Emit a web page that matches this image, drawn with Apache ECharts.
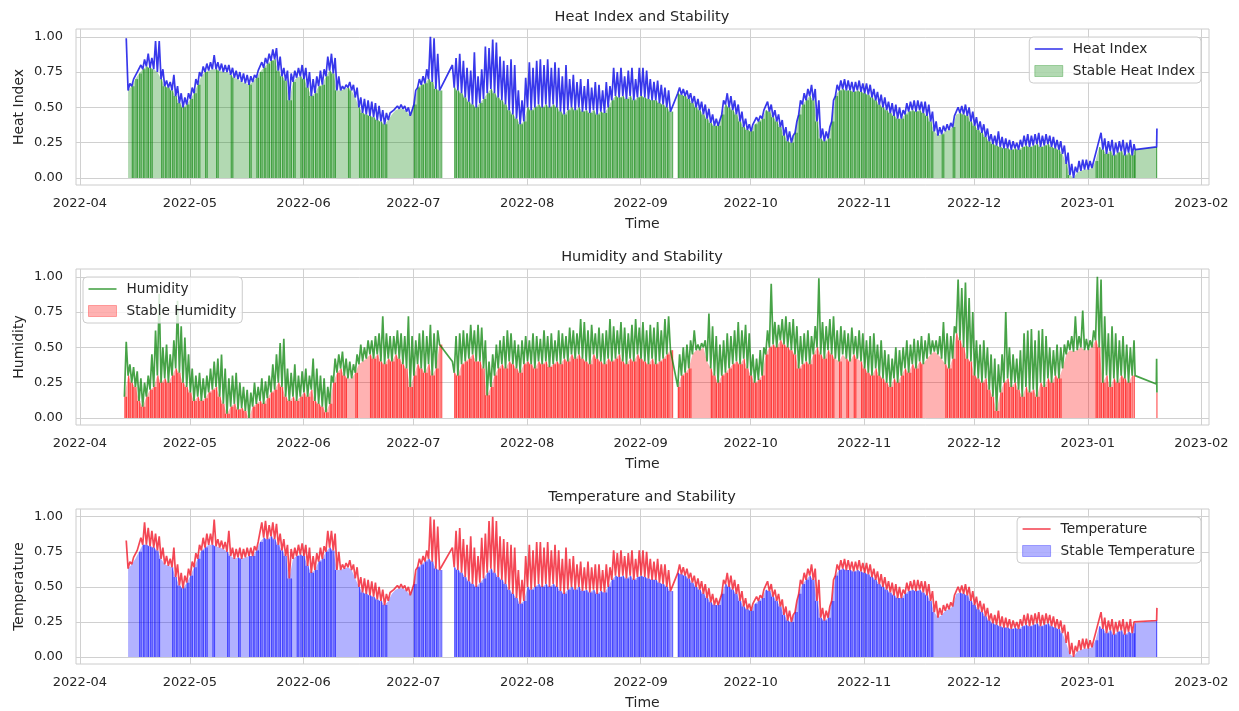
<!DOCTYPE html>
<html><head><meta charset="utf-8">
<script src="https://cdn.jsdelivr.net/npm/echarts@6/dist/echarts.min.js"></script>
<style>html,body{margin:0;padding:0;background:#fff;}#c{width:1239px;height:711px;}</style>
</head><body><div id="c"></div>
<script>
// ---------- tick labels ----------
const monthTicks = ['2022-04','2022-05','2022-06','2022-07','2022-08','2022-09','2022-10','2022-11','2022-12','2023-01','2023-02'];
const yTicks = [0, 0.25, 0.5, 0.75, 1.0];

// ---------- daily values (percent), one entry per day starting 2022-04-13 ----------
// lo = daily low (night), hi = daily high (afternoon)
const heatLo = [
 null,62,65,70,74,77,79,78,77,75,70,65,64,62,58,53,50,52,
 56,60,66,72,75,76,77,77,76,75,75,73,71,70,68,67,66,68,71,75,78,81,83,84,76,72,69,55,68,71,72,
 70,64,58,60,65,66,72,76,74,62,62,63,64,62,57,50,46,45,44,43,41,40,38,41,45,48,49,49,47,44,
 52,64,66,67,70,68,63,62,null,null,null,64,62,60,57,54,52,50,53,56,60,63,60,57,55,52,48,45,42,38,40,
 50,48,50,52,50,52,50,52,50,47,45,48,50,48,50,47,48,46,48,45,47,46,50,55,58,57,58,56,58,55,57,
 58,57,56,55,55,53,52,50,47,null,60,59,58,56,53,50,48,45,42,39,37,37,45,52,50,48,45,40,36,34,
 33,38,40,42,48,47,43,40,36,30,26,25,32,45,52,55,58,55,40,28,26,28,40,58,62,63,62,62,61,62,61,
 60,59,57,55,52,50,48,46,44,42,42,45,47,48,47,48,46,44,40,33,30,31,33,34,36,45,46,45,44,40,
 37,34,32,29,26,24,23,22,21,21,20,21,20,22,23,22,23,24,22,23,24,22,21,20,17,10,2,0,4,5,6,
 6,7,12,22,20,17,19,16,18,19,16,18,16
];
const heatHi = [
 99,67,70,75,80,84,88,85,97,97,77,69,68,73,65,60,57,60,
 64,70,75,79,81,82,87,82,81,80,80,78,76,75,74,73,72,73,76,82,85,88,91,92,86,78,76,74,76,78,80,
 78,75,70,72,76,77,86,88,85,72,65,66,68,66,64,57,56,55,54,53,51,48,46,46,48,51,52,51,50,48,
 62,70,72,77,100,99,88,null,null,null,80,85,88,83,78,76,89,72,77,93,92,98,96,86,83,80,84,80,62,55,71,
 82,78,83,84,80,84,78,82,78,72,80,70,73,68,70,65,70,64,68,66,62,68,65,78,75,78,72,76,78,70,78,
 78,76,70,68,69,66,64,62,null,null,64,63,62,60,58,56,54,52,49,45,42,41,55,60,58,55,52,47,42,38,
 38,43,44,48,54,52,48,45,41,36,33,30,40,55,60,63,66,63,55,35,33,36,55,66,69,70,69,68,68,69,67,
 67,66,63,61,59,57,54,53,52,50,48,53,54,55,55,54,54,52,47,40,36,37,38,39,44,50,51,52,50,47,
 43,40,38,35,31,30,33,29,28,27,26,25,27,30,31,30,31,32,30,31,30,29,27,26,23,18,10,8,12,13,13,
 12,12,22,32,28,26,27,25,26,27,25,27,24
];
// stable flags per day: 1 = stable (dense), 0 = stable (sparse), - = not stable
const heatStable = [
 '00111 11100 11111 111',
 '11101 00100 01000 01011 11111 11110 1',
 '11111 11110 00100 11111 11100 00000',
 '11111 111-- -1111 11111 11111 11111 1',
 '11111 11111 11111 11111 11111 11111 1',
 '11111 1111- 11111 11111 11111 11111',
 '11111 11111 11111 11111 11111 11111 1',
 '11111 11111 11111 11110 01001 01111',
 '11111 11111 11111 11111 11110 10100 0',
 '00111 11111 111'
];
const heatTailTime = ['2023-01-13 22:00','2023-01-19 19:00','2023-01-19 21:00'];
const heatTailValue = [20, 22, 35];
const heatTailStable = [20, 22, null];

const humLo = [
 15,30,25,22,12,8,15,20,22,30,25,28,25,30,35,32,25,22,
 18,12,15,12,14,18,20,22,15,10,3,8,10,6,7,5,0,8,10,12,10,14,18,20,25,22,15,12,15,12,15,
 18,15,20,12,10,8,4,10,25,32,35,30,28,28,32,38,40,42,45,42,45,40,38,42,40,45,42,38,35,22,
 30,38,35,32,38,30,35,52,null,null,null,32,30,38,40,42,45,40,40,35,16,22,30,35,38,35,40,38,35,32,38,
 40,38,35,40,38,40,36,38,40,38,42,40,45,42,45,42,40,38,45,42,40,38,42,40,42,45,40,38,42,40,45,
 42,40,38,42,38,40,42,45,48,null,22,30,32,35,45,48,48,50,40,35,30,25,30,32,35,38,40,38,42,35,
 30,25,27,30,45,50,52,50,55,52,50,48,45,35,38,40,38,45,50,45,42,48,45,42,40,45,42,40,45,42,40,
 35,32,30,35,30,28,25,22,28,25,30,35,32,38,35,40,38,42,45,47,45,42,38,35,42,60,55,50,42,40,
 30,28,25,28,20,15,5,18,25,28,22,25,20,15,22,18,20,15,25,22,28,25,30,28,35,45,48,47,48,50,48,
 48,50,55,50,25,30,22,28,25,30,28,25,30
];
const humHi = [
 54,38,36,33,28,25,30,45,62,88,50,52,45,55,83,65,57,45,
 35,30,32,28,30,35,40,42,45,35,28,30,32,25,22,20,18,25,22,28,26,30,38,45,53,56,35,32,38,30,33,
 35,30,42,35,30,28,22,30,42,45,47,42,40,38,45,52,50,55,55,58,60,72,60,58,58,62,60,58,72,58,
 55,60,62,58,66,60,62,null,null,null,40,58,60,62,60,66,62,66,64,55,40,45,52,55,58,62,60,55,52,55,58,
 55,60,58,56,62,58,60,55,62,60,58,64,62,60,70,68,62,66,60,64,60,62,70,65,62,68,64,60,66,70,64,
 68,62,66,64,68,62,70,72,null,null,45,50,52,55,62,52,53,55,74,65,58,52,55,60,58,62,68,62,66,60,
 45,42,48,50,62,95,68,66,70,72,68,70,65,58,60,62,58,65,99,68,65,70,72,62,65,62,60,64,58,62,60,
 55,58,60,52,55,48,45,42,50,48,50,55,52,56,55,58,55,60,55,55,58,68,60,58,65,98,92,96,85,75,
 55,52,55,50,45,42,38,45,75,50,45,42,48,60,62,63,55,62,63,58,50,48,52,50,52,55,58,72,58,76,56,
 55,62,100,98,72,60,65,60,55,58,52,50,55
];
const humStable = [
 '11111 11111 11111 111',
 '11111 11111 11111 11111 11111 11111 1',
 '11111 11111 11001 00011 11111 11111',
 '11111 111-- -1111 11111 11111 11111 1',
 '11111 11111 11111 11111 11111 11111 1',
 '11111 1111- 11110 00001 11111 11111',
 '11111 11111 11111 11111 11101 01010 1',
 '11111 11111 11111 10000 00111 11111',
 '11111 11111 11111 11111 11110 00000 0',
 '00111 11111 111'
];
const humTailTime = ['2023-01-13 22:00','2023-01-19 17:00','2023-01-19 19:00','2023-01-19 21:00'];
const humTailValue = [30, 24, 42, 18];
const humTailStable = [null, null, null, 18];

const tempLo = [
 null,63,66,70,75,80,80,79,78,76,70,66,65,64,57,51,49,53,
 58,64,70,76,78,80,80,79,78,77,75,72,70,71,70,71,72,72,76,82,85,84,86,84,80,76,72,56,70,72,73,
 72,65,60,62,68,70,75,78,76,62,62,63,64,62,56,50,46,45,44,43,41,40,37,40,45,48,49,49,47,44,
 52,64,66,68,70,68,63,62,null,null,null,64,62,60,57,54,52,50,53,56,60,63,60,57,55,52,48,45,42,38,40,
 50,48,50,52,50,52,50,52,50,47,45,48,50,48,50,47,48,46,48,45,47,46,50,55,58,57,58,56,58,55,57,
 58,57,56,55,55,53,52,50,47,null,60,59,58,56,53,50,48,45,42,39,37,37,45,52,50,48,45,40,36,34,
 33,38,40,42,48,47,43,40,36,30,26,25,32,45,52,55,58,55,40,28,26,28,40,58,62,63,62,62,61,62,61,
 60,59,57,55,52,50,48,46,44,42,42,45,47,48,47,48,46,44,40,32,28,30,33,34,36,45,46,45,44,40,
 37,34,32,29,26,24,23,22,21,21,20,21,20,22,23,22,23,24,22,23,24,22,21,20,17,10,2,0,4,5,6,
 6,7,12,22,20,17,19,16,18,19,16,18,17
];
const tempHi = [
 83,68,71,76,85,96,92,90,88,86,78,72,70,78,66,60,58,63,
 68,74,80,85,88,88,98,84,83,82,90,78,77,78,77,78,78,79,82,96,97,94,96,95,88,84,80,77,78,80,81,
 80,78,72,74,78,79,90,90,88,75,66,67,69,66,64,57,56,55,54,53,50,48,45,46,48,51,52,51,50,48,
 62,70,72,76,100,98,93,null,null,null,78,90,92,84,80,86,78,72,85,88,97,100,97,86,84,82,80,78,62,55,72,
 80,76,82,82,78,82,76,80,76,70,78,70,72,66,68,64,68,64,66,66,62,66,64,76,74,76,72,74,76,70,76,
 76,75,70,68,70,66,66,62,null,null,66,64,63,60,58,56,54,52,49,45,42,41,55,60,58,55,52,47,42,38,
 38,43,44,48,54,52,48,45,41,36,33,30,40,55,60,63,66,63,55,35,33,36,55,66,69,70,69,68,68,69,67,
 67,66,63,61,59,57,54,53,52,50,48,53,54,55,55,54,54,52,47,40,35,37,38,39,44,50,51,52,50,47,
 43,40,38,35,31,30,33,29,28,27,26,25,27,30,31,30,31,32,30,31,30,29,27,26,23,18,10,8,12,13,13,
 12,12,22,32,28,26,27,25,26,27,25,27,25
];
const tempStable = [
 '00001 11111 00011 111',
 '11111 01000 10010 01111 11111 11101 1',
 '11111 11110 00000 11111 11100 00000',
 '11111 111-- -1111 11111 11111 11111 1',
 '11111 11111 11111 11111 11111 11111 1',
 '11111 1111- 11111 11111 11111 11111',
 '11111 11111 11111 11111 11111 11111 1',
 '11111 11111 11111 11110 00000 01111',
 '11111 11111 11111 11111 11110 00000 0',
 '00111 11111 111'
];
const tempTailTime = ['2023-01-13 22:00','2023-01-19 19:00','2023-01-19 21:00'];
const tempTailValue = [24, 26, 35];
const tempTailStable = [24, 26, null];

// ---------- helpers ----------
const FONT = 'DejaVu Sans';
const TXT = '#262626';
const dayT = (i, h) => new Date(2022, 3, 13 + i, h).getTime();
const parseT = s => { const [d, hm] = s.split(' '); const [y, m, dd] = d.split('-').map(Number); const [hh, mm] = hm.split(':').map(Number); return new Date(y, m - 1, dd, hh, mm).getTime(); };
const flagStr = parts => parts.join('').replace(/\s+/g, '');
const tickTimes = monthTicks.map(s => { const [y, m] = s.split('-').map(Number); return new Date(y, m - 1, 1).getTime(); });

function lineData(lo, hi, tT, tV) {
  const out = [];
  for (let i = 0; i < lo.length; i++) {
    if (lo[i] != null) out.push([dayT(i, 3), lo[i] / 100]);
    if (hi[i] != null) out.push([dayT(i, 15), hi[i] / 100]);
  }
  tT.forEach((s, k) => out.push([parseT(s), tV[k] / 100]));
  return out;
}
function fillData(lo, fl, tT, tS) {
  const out = [];
  for (let i = 0; i < lo.length; i++) {
    if (fl[i] === '-' || lo[i] == null) out.push([dayT(i, 3), '-']);
    else out.push([dayT(i, 3), lo[i] / 100]);
  }
  tT.forEach((s, k) => out.push([parseT(s), tS[k] == null ? '-' : tS[k] / 100]));
  return out;
}
function stripeData(lo, fl, tT, tS) {
  const out = [];
  for (let i = 0; i < lo.length; i++) {
    if (fl[i] === '1' && lo[i] != null) {
      out.push([dayT(i, 7), lo[i] / 100]);
      const nx = (i + 1 < lo.length && lo[i + 1] != null) ? Math.min(lo[i], lo[i + 1]) : lo[i];
      out.push([dayT(i, 17), nx / 100]);
    }
  }
  tT.forEach((s, k) => { if (tS[k] != null) out.push([parseT(s), tS[k] / 100]); });
  return out;
}

const panels = [
  { title: 'Heat Index and Stability', yName: 'Heat Index', lineName: 'Heat Index', fillName: 'Stable Heat Index',
    lo: heatLo, hi: heatHi, fl: flagStr(heatStable), tT: heatTailTime, tV: heatTailValue, tS: heatTailStable,
    lineColor: 'rgba(0,0,230,0.78)', fillColor: 'rgba(0,128,0,0.3)', stripeColor: 'rgba(0,128,0,0.62)',
    top: 29, legend: { right: 38, top: 37 } },
  { title: 'Humidity and Stability', yName: 'Humidity', lineName: 'Humidity', fillName: 'Stable Humidity',
    lo: humLo, hi: humHi, fl: flagStr(humStable), tT: humTailTime, tV: humTailValue, tS: humTailStable,
    lineColor: 'rgba(0,128,0,0.72)', fillColor: 'rgba(255,0,0,0.3)', stripeColor: 'rgba(255,0,0,0.65)',
    top: 269, legend: { left: 83, top: 277 } },
  { title: 'Temperature and Stability', yName: 'Temperature', lineName: 'Temperature', fillName: 'Stable Temperature',
    lo: tempLo, hi: tempHi, fl: flagStr(tempStable), tT: tempTailTime, tV: tempTailValue, tS: tempTailStable,
    lineColor: 'rgba(240,0,20,0.72)', fillColor: 'rgba(0,0,255,0.3)', stripeColor: 'rgba(0,0,255,0.6)',
    top: 509, legend: { right: 38, top: 517 } }
];

const xMin = new Date(2022, 2, 30, 22).getTime();
const xMax = new Date(2023, 1, 3, 2).getTime();

const option = {
  animation: false,
  backgroundColor: '#ffffff',
  textStyle: { fontFamily: FONT, color: TXT },
  title: [], grid: [], xAxis: [], yAxis: [], legend: [], series: []
};

panels.forEach((p, k) => {
  option.title.push({
    text: p.title, left: 642, top: p.top - 19, textAlign: 'center', padding: 0,
    textStyle: { fontFamily: FONT, fontSize: 14.5, fontWeight: 'normal', color: TXT }
  });
  option.grid.push({ left: 76, right: 30, top: p.top, height: 156, show: true, borderColor: '#cccccc', borderWidth: 1, backgroundColor: 'transparent' });
  option.xAxis.push({
    type: 'value', gridIndex: k, min: xMin, max: xMax,
    name: 'Time', nameLocation: 'middle', nameGap: 32,
    nameTextStyle: { fontFamily: FONT, fontSize: 14, color: TXT },
    axisLine: { show: false },
    axisTick: { show: false, customValues: tickTimes },
    axisLabel: { customValues: tickTimes, margin: 12, fontFamily: FONT, fontSize: 13, color: TXT,
      formatter: v => { const i = tickTimes.indexOf(v); return i >= 0 ? monthTicks[i] : ''; } },
    splitLine: { show: true, lineStyle: { color: '#d0d0d0', width: 1 } }
  });
  option.yAxis.push({
    type: 'value', gridIndex: k, min: -0.05, max: 1.055,
    name: p.yName, nameLocation: 'middle', nameGap: 50, nameRotate: 90, nameMoveOverlap: false,
    nameTextStyle: { fontFamily: FONT, fontSize: 14, color: TXT },
    axisLine: { show: false },
    axisTick: { show: false, customValues: yTicks },
    axisLabel: { customValues: yTicks, margin: 13, fontFamily: FONT, fontSize: 13, color: TXT, formatter: v => v.toFixed(2) },
    splitLine: { show: true, lineStyle: { color: '#d0d0d0', width: 1 } }
  });
  option.legend.push(Object.assign({
    orient: 'vertical', padding: [5, 6, 5, 5], itemGap: 8, itemWidth: 28, itemHeight: 14,
    backgroundColor: 'rgba(255,255,255,0.8)', borderColor: '#cccccc', borderWidth: 1, borderRadius: 4,
    textStyle: { fontFamily: FONT, fontSize: 13.7, color: TXT, padding: [0, 0, 0, 5] },
    data: [
      { name: p.lineName, icon: 'path://M0,0 H28 V1.6 H0 Z', itemStyle: { color: p.lineColor, borderWidth: 0 } },
      { name: p.fillName, icon: 'path://M0,0 H28 V11 H0 Z', itemStyle: { color: p.fillColor, borderColor: p.fillColor, borderWidth: 1 } }
    ]
  }, p.legend));
  option.series.push({
    name: p.fillName, type: 'line', xAxisIndex: k, yAxisIndex: k, symbol: 'none', connectNulls: false,
    data: fillData(p.lo, p.fl, p.tT, p.tS),
    lineStyle: { width: 0, opacity: 0, color: p.fillColor }, itemStyle: { color: p.fillColor },
    areaStyle: { color: p.fillColor, opacity: 1 }, silent: true
  });
  option.series.push({
    name: '_stripes' + k, type: 'bar', xAxisIndex: k, yAxisIndex: k, barWidth: 1.2,
    data: stripeData(p.lo, p.fl, p.tT, p.tS),
    itemStyle: { color: p.stripeColor }, silent: true
  });
  option.series.push({
    name: p.lineName, type: 'line', xAxisIndex: k, yAxisIndex: k, symbol: 'none',
    data: lineData(p.lo, p.hi, p.tT, p.tV),
    lineStyle: { width: 1.7, color: p.lineColor }, itemStyle: { color: p.lineColor }, clip: false
  });
});

const chart = echarts.init(document.getElementById('c'), null, { renderer: 'canvas' });
chart.setOption(option);
</script>
</body></html>
